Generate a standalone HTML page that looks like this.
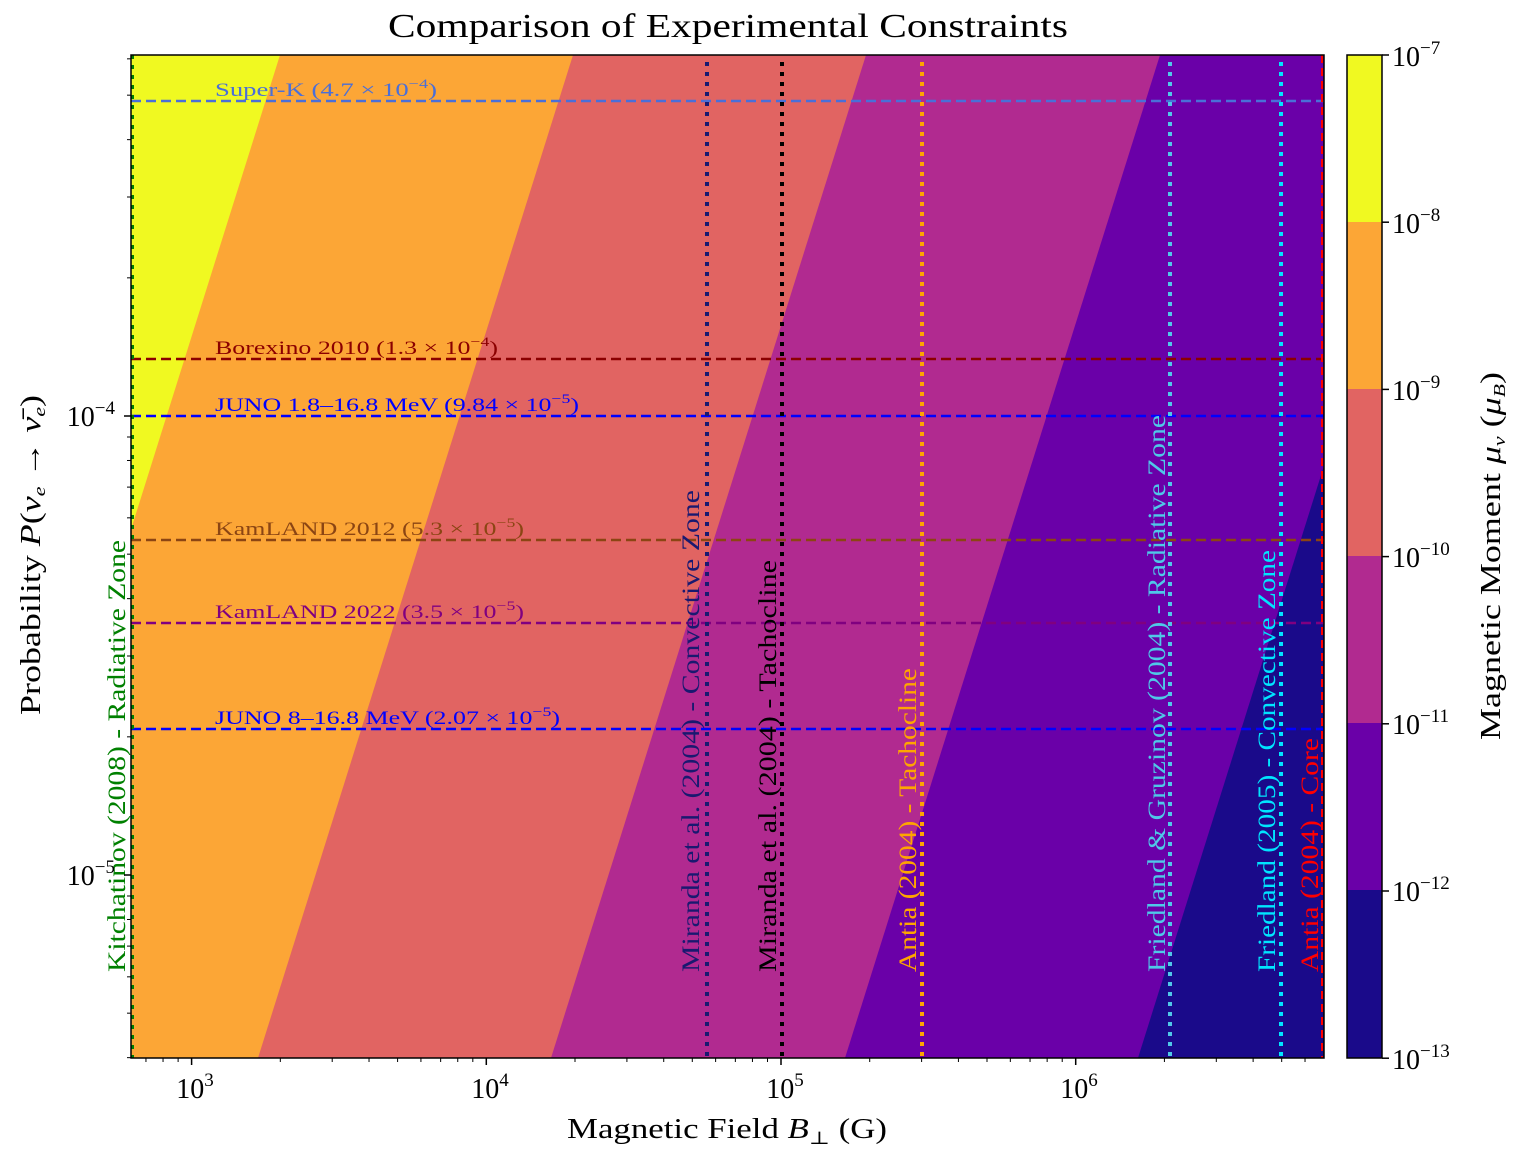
<!DOCTYPE html>
<html><head><meta charset="utf-8"><style>
body{margin:0;background:#fff}
svg text{font-family:"Liberation Serif","DejaVu Serif",serif}
</style></head><body>
<svg id="s" width="1516" height="1158" viewBox="0 0 1516 1158" xmlns="http://www.w3.org/2000/svg">
<defs><clipPath id="c"><rect x="131" y="55" width="1193" height="1003"/></clipPath></defs>
<text x="388" y="37" font-size="34" textLength="680" lengthAdjust="spacingAndGlyphs">Comparison of Experimental Constraints</text>
<g clip-path="url(#c)">
<rect x="131" y="55" width="1193" height="1003" fill="#1a0a8a"/>
<polygon points="0,1058 1138,1058 1453,55 0,55" fill="#6a00a8"/>
<polygon points="0,1058 845,1058 1160,55 0,55" fill="#b12a90"/>
<polygon points="0,1058 551,1058 866,55 0,55" fill="#e16462"/>
<polygon points="0,1058 258,1058 573,55 0,55" fill="#fca636"/>
<polygon points="-35,1058 280,55 0,55 0,1058" fill="#f0f921"/>
<g stroke-width="2.5" stroke-dasharray="10,5" fill="none">
<line x1="131" x2="1324" y1="101" y2="101" stroke="#4a6fd8"/>
<line x1="131" x2="1324" y1="359" y2="359" stroke="#8b0000"/>
<line x1="131" x2="1324" y1="416" y2="416" stroke="#0000ff"/>
<line x1="131" x2="1324" y1="540" y2="540" stroke="#8b4513"/>
<line x1="131" x2="1324" y1="623" y2="623" stroke="#800080"/>
<line x1="131" x2="1324" y1="729" y2="729" stroke="#0000ff"/>
</g>
<g stroke-width="4" stroke-dasharray="4,6" fill="none">
<line x1="132" x2="132" y1="55" y2="1058" stroke="#008000"/>
<line x1="707" x2="707" y1="62" y2="1058" stroke="#191970"/>
<line x1="782" x2="782" y1="62" y2="1058" stroke="#000"/>
<line x1="922" x2="922" y1="62" y2="1058" stroke="#ffa500"/>
<line x1="1170" x2="1170" y1="62" y2="1058" stroke="#4fc8e8"/>
<line x1="1281" x2="1281" y1="62" y2="1058" stroke="#00e5ff"/>
</g>
<line x1="1322" x2="1322" y1="55" y2="1058" stroke="#ff0000" stroke-width="2" stroke-dasharray="8,5"/>
</g>
<g font-size="19" lengthAdjust="spacingAndGlyphs">
<text x="215" y="96" fill="#4a6fd8" textLength="222" lengthAdjust="spacingAndGlyphs">Super-K (4.7 × 10<tspan dy="-8" font-size="13">−4</tspan><tspan dy="8">)</tspan></text>
<text x="215" y="354" fill="#8b0000" textLength="283" lengthAdjust="spacingAndGlyphs">Borexino 2010 (1.3 × 10<tspan dy="-8" font-size="13">−4</tspan><tspan dy="8">)</tspan></text>
<text x="215" y="411" fill="#0000ff" textLength="364" lengthAdjust="spacingAndGlyphs">JUNO 1.8–16.8 MeV (9.84 × 10<tspan dy="-8" font-size="13">−5</tspan><tspan dy="8">)</tspan></text>
<text x="215" y="535" fill="#8b4513" textLength="309" lengthAdjust="spacingAndGlyphs">KamLAND 2012 (5.3 × 10<tspan dy="-8" font-size="13">−5</tspan><tspan dy="8">)</tspan></text>
<text x="215" y="618" fill="#800080" textLength="309" lengthAdjust="spacingAndGlyphs">KamLAND 2022 (3.5 × 10<tspan dy="-8" font-size="13">−5</tspan><tspan dy="8">)</tspan></text>
<text x="215" y="724" fill="#0000ff" textLength="345" lengthAdjust="spacingAndGlyphs">JUNO 8–16.8 MeV (2.07 × 10<tspan dy="-8" font-size="13">−5</tspan><tspan dy="8">)</tspan></text>
</g>
<g font-size="25">
<text transform="translate(125,972) rotate(-90)" fill="#008000" textLength="432" lengthAdjust="spacingAndGlyphs">Kitchatinov (2008) - Radiative Zone</text>
<text transform="translate(699,972) rotate(-90)" fill="#191970" textLength="482" lengthAdjust="spacingAndGlyphs">Miranda et al. (2004) - Convective Zone</text>
<text transform="translate(776,972) rotate(-90)" fill="#000" textLength="412" lengthAdjust="spacingAndGlyphs">Miranda et al. (2004) - Tachocline</text>
<text transform="translate(916,972) rotate(-90)" fill="#ffa500" textLength="304" lengthAdjust="spacingAndGlyphs">Antia (2004) - Tachocline</text>
<text transform="translate(1165,972) rotate(-90)" fill="#4fc8e8" textLength="557" lengthAdjust="spacingAndGlyphs">Friedland &amp; Gruzinov (2004) - Radiative Zone</text>
<text transform="translate(1275,972) rotate(-90)" fill="#00e5ff" textLength="422" lengthAdjust="spacingAndGlyphs">Friedland (2005) - Convective Zone</text>
<text transform="translate(1318,972) rotate(-90)" fill="#ff0000" textLength="234" lengthAdjust="spacingAndGlyphs">Antia (2004) - Core</text>
</g>
<rect x="131" y="55" width="1193" height="1003" fill="none" stroke="#000" stroke-width="1.5"/>
<g id="ticks" stroke="#000"></g>
<g font-size="28" text-anchor="middle">
<text x="195" y="1098">10<tspan dy="-12" font-size="19">3</tspan></text>
<text x="490" y="1098">10<tspan dy="-12" font-size="19">4</tspan></text>
<text x="785" y="1098">10<tspan dy="-12" font-size="19">5</tspan></text>
<text x="1079" y="1098">10<tspan dy="-12" font-size="19">6</tspan></text>
</g>
<g font-size="28" text-anchor="end">
<text x="115" y="426">10<tspan dy="-12" font-size="19">−4</tspan></text>
<text x="115" y="885">10<tspan dy="-12" font-size="19">−5</tspan></text>
</g>
<text x="567" y="1138" font-size="28" textLength="320" lengthAdjust="spacingAndGlyphs">Magnetic Field <tspan font-style="italic">B</tspan><tspan dy="6" font-size="18">⊥</tspan><tspan dy="-6"> (G)</tspan></text>
<text transform="translate(40,715) rotate(-90)" font-size="28" textLength="320" lengthAdjust="spacingAndGlyphs">Probability <tspan font-style="italic">P</tspan>(<tspan font-style="italic">ν</tspan><tspan dy="5" font-size="17" font-style="italic">e</tspan><tspan dy="-5"> → </tspan><tspan font-style="italic">ν̄</tspan><tspan dy="5" font-size="17" font-style="italic">e</tspan><tspan dy="-5">)</tspan></text>
<rect x="1347" y="55" width="35" height="167" fill="#f0f921"/>
<rect x="1347" y="222" width="35" height="167" fill="#fca636"/>
<rect x="1347" y="389" width="35" height="167" fill="#e16462"/>
<rect x="1347" y="556" width="35" height="167" fill="#b12a90"/>
<rect x="1347" y="723" width="35" height="167" fill="#6a00a8"/>
<rect x="1347" y="890" width="35" height="168" fill="#1a0a8a"/>
<rect x="1347" y="55" width="35" height="1003" fill="none" stroke="#000" stroke-width="1.5"/>
<g font-size="28">
<text x="1392" y="66">10<tspan dy="-12" font-size="19">−7</tspan></text>
<text x="1392" y="233">10<tspan dy="-12" font-size="19">−8</tspan></text>
<text x="1392" y="400">10<tspan dy="-12" font-size="19">−9</tspan></text>
<text x="1392" y="567">10<tspan dy="-12" font-size="19">−10</tspan></text>
<text x="1392" y="734">10<tspan dy="-12" font-size="19">−11</tspan></text>
<text x="1392" y="901">10<tspan dy="-12" font-size="19">−12</tspan></text>
<text x="1392" y="1069">10<tspan dy="-12" font-size="19">−13</tspan></text>
</g>
<text transform="translate(1500,740) rotate(-90)" font-size="28" textLength="368" lengthAdjust="spacingAndGlyphs">Magnetic Moment <tspan font-style="italic">μ</tspan><tspan dy="5" font-size="17" font-style="italic">ν</tspan><tspan dy="-5"> (</tspan><tspan font-style="italic">μ</tspan><tspan dy="5" font-size="17" font-style="italic">B</tspan><tspan dy="-5">)</tspan></text>
</svg>
<script>
var g=document.getElementById('ticks'),h='';
function X(b){return 781+294.7*Math.log10(b/1e5);}
function Y(p){return 416-459*Math.log10(p/1e-4);}
for(var e=2;e<=6;e++)for(var m=1;m<10;m++){var x=X(m*Math.pow(10,e));if(x<131||x>1324)continue;var L=m==1?7:4;h+='<line x1="'+x+'" x2="'+x+'" y1="1058" y2="'+(1058+L)+'" stroke-width="'+(m==1?1.5:1)+'"/>';}
for(var e=-6;e<=-3;e++)for(var m=1;m<10;m++){var y=Y(m*Math.pow(10,e));if(y<55||y>1058)continue;var L=m==1?7:4;h+='<line y1="'+y+'" y2="'+y+'" x1="131" x2="'+(131-L)+'" stroke-width="'+(m==1?1.5:1)+'"/>';}
for(var i=0;i<7;i++){var y=55+i*167.2;h+='<line x1="1382" x2="1389" y1="'+y+'" y2="'+y+'" stroke-width="1.5"/>';}
g.innerHTML=h;
</script>
</body></html>
